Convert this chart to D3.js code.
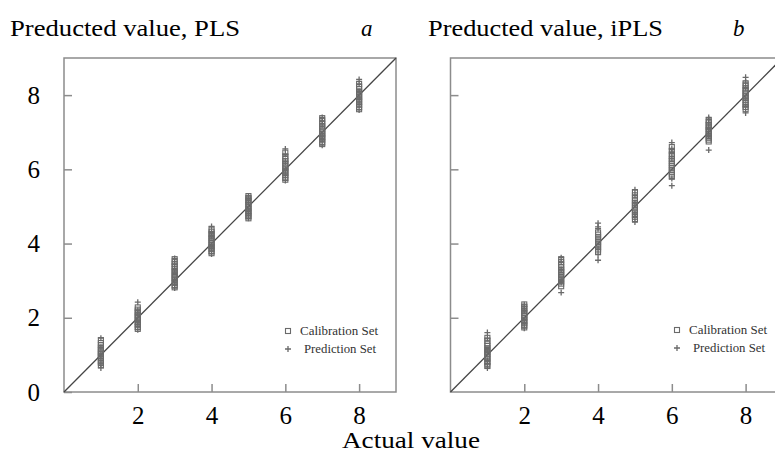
<!DOCTYPE html>
<html>
<head>
<meta charset="utf-8">
<script src="https://cdn.jsdelivr.net/npm/d3@7"></script>
<style>
  body { margin: 0; background: #fff; }
  svg { display: block; font-family: "Liberation Serif", "Times New Roman", serif; }
</style>
</head>
<body>
<svg id="chart" width="775" height="454"></svg>
<script>
// actual class values on the x axis
const actual = [1, 2, 3, 4, 5, 6, 7, 8];
const xTicks = [2, 4, 6, 8];
const yTicks = [0, 2, 4, 6, 8];

// predicted values per class
const plsCalib = [
  [0.72, 0.78, 0.83, 0.88, 0.93, 0.98, 1.02, 1.06, 1.1, 1.15, 1.2, 1.26, 1.32, 1.4],
  [1.7, 1.75, 1.8, 1.85, 1.9, 1.95, 1.99, 2.03, 2.07, 2.12, 2.17, 2.22, 2.28],
  [2.82, 2.88, 2.94, 3.0, 3.05, 3.1, 3.15, 3.2, 3.26, 3.32, 3.38, 3.44, 3.5, 3.58],
  [3.74, 3.8, 3.85, 3.9, 3.95, 4.0, 4.05, 4.1, 4.15, 4.2, 4.26, 4.32, 4.38],
  [4.68, 4.73, 4.78, 4.83, 4.88, 4.93, 4.98, 5.03, 5.08, 5.13, 5.18, 5.23, 5.28],
  [5.72, 5.78, 5.84, 5.9, 5.95, 6.0, 6.05, 6.1, 6.16, 6.22, 6.28, 6.35, 6.45],
  [6.68, 6.74, 6.8, 6.85, 6.9, 6.95, 7.0, 7.05, 7.1, 7.16, 7.22, 7.3, 7.38],
  [7.62, 7.68, 7.74, 7.8, 7.85, 7.9, 7.95, 8.0, 8.05, 8.1, 8.16, 8.22, 8.3]
];
const plsPred = [
  [0.65, 0.75, 0.9, 1.0, 1.2, 1.45],
  [1.68, 1.82, 1.9, 2.1, 2.2, 2.42],
  [2.8, 2.9, 3.0, 3.3, 3.45, 3.6],
  [3.72, 3.88, 3.95, 4.2, 4.3, 4.46],
  [4.68, 4.8, 4.9, 5.1, 5.2, 5.28],
  [5.7, 5.85, 6.0, 6.2, 6.4, 6.55],
  [6.65, 6.8, 6.9, 7.2, 7.3, 7.4],
  [7.6, 7.75, 7.9, 8.1, 8.3, 8.42]
];
const iplsCalib = [
  [0.7, 0.76, 0.82, 0.88, 0.93, 0.98, 1.03, 1.08, 1.13, 1.18, 1.24, 1.3, 1.38, 1.46],
  [1.74, 1.8, 1.85, 1.9, 1.95, 2.0, 2.04, 2.08, 2.13, 2.18, 2.24, 2.3, 2.36],
  [2.85, 2.92, 2.98, 3.04, 3.1, 3.15, 3.2, 3.25, 3.3, 3.36, 3.42, 3.5, 3.58],
  [3.78, 3.84, 3.9, 3.95, 4.0, 4.04, 4.08, 4.13, 4.18, 4.24, 4.3],
  [4.66, 4.72, 4.78, 4.84, 4.9, 4.95, 5.0, 5.05, 5.1, 5.16, 5.22, 5.3, 5.38],
  [5.8, 5.86, 5.92, 5.98, 6.04, 6.1, 6.16, 6.22, 6.28, 6.35, 6.42, 6.5, 6.6],
  [6.75, 6.8, 6.85, 6.9, 6.95, 7.0, 7.05, 7.1, 7.15, 7.2, 7.26, 7.32],
  [7.62, 7.68, 7.74, 7.8, 7.86, 7.92, 7.97, 8.02, 8.07, 8.12, 8.18, 8.25, 8.32]
];
const iplsPred = [
  [0.65, 0.75, 0.85, 1.1, 1.45, 1.6],
  [1.72, 1.85, 1.95, 2.2, 2.3, 2.35],
  [2.68, 2.95, 3.0, 3.3, 3.5, 3.62],
  [3.55, 3.7, 3.85, 4.4, 4.45, 4.55],
  [4.58, 4.7, 4.8, 5.1, 5.3, 5.45],
  [5.56, 5.75, 6.3, 6.45, 6.55, 6.72],
  [6.52, 6.9, 7.1, 7.25, 7.35, 7.4],
  [7.52, 7.7, 7.9, 8.2, 8.35, 8.48]
];

const legendLabels = ["Calibration Set", "Prediction Set"];

const svg = d3.select("#chart");
const plotW = 332, plotTop = 58, plotBottom = 392;
const markColor = "#6a6a6a";
const plusPath = "M-3,0H3M0,-3V3";

function flatten(groups) {
  const out = [];
  groups.forEach((vals, i) => vals.forEach(v => out.push({x: actual[i], y: v})));
  return out;
}

function drawPanel(opt) {
  const x = d3.scaleLinear().domain([0, 9]).range([opt.left, opt.left + plotW]);
  const y = d3.scaleLinear().domain([0, 9]).range([plotBottom, plotTop]);
  const g = svg.append("g");

  // frame
  g.append("rect")
    .attr("x", opt.left).attr("y", plotTop)
    .attr("width", plotW).attr("height", plotBottom - plotTop)
    .attr("fill", "none")
    .attr("stroke", "#8c8c8c")
    .attr("stroke-width", 1.5);

  // inward ticks
  const xAxis = g.append("g")
    .attr("transform", `translate(0,${plotBottom})`)
    .call(d3.axisBottom(x).tickValues(xTicks).tickSize(-8).tickPadding(14));
  const yAxis = g.append("g")
    .attr("transform", `translate(${opt.left},0)`)
    .call(d3.axisLeft(y).tickValues(opt.yLabels ? yTicks : xTicks)
      .tickSize(-8).tickPadding(24)
      .tickFormat(opt.yLabels ? d3.format("d") : () => ""));

  [xAxis, yAxis].forEach(a => {
    a.select(".domain").remove();
    a.selectAll(".tick line").attr("stroke", "#8c8c8c").attr("stroke-width", 1.5);
    a.selectAll(".tick text")
      .attr("fill", "#000")
      .style("font-family", "Liberation Serif, serif")
      .style("font-size", "25px");
  });

  // 1:1 line
  g.append("line")
    .attr("x1", x(0)).attr("y1", y(0))
    .attr("x2", x(9)).attr("y2", y(9))
    .attr("stroke", "#454545")
    .attr("stroke-width", 1.3);

  g.selectAll("rect.cal")
    .data(flatten(opt.calib))
    .join("rect")
    .attr("class", "cal")
    .attr("x", d => x(d.x) - 2.5)
    .attr("y", d => y(d.y) - 2.5)
    .attr("width", 5).attr("height", 5)
    .attr("fill", "none")
    .attr("stroke", markColor)
    .attr("stroke-width", 1.1);

  g.selectAll("path.pred")
    .data(flatten(opt.pred))
    .join("path")
    .attr("class", "pred")
    .attr("d", plusPath)
    .attr("transform", d => `translate(${x(d.x)},${y(d.y)})`)
    .attr("stroke", markColor)
    .attr("stroke-width", 1.3);

  // legend
  const lg = g.append("g").attr("transform", `translate(${opt.legendX},${opt.legendY})`);
  lg.append("rect")
    .attr("x", -2.5).attr("y", -2.5).attr("width", 5).attr("height", 5)
    .attr("fill", "none").attr("stroke", markColor).attr("stroke-width", 1.1);
  lg.append("path")
    .attr("d", plusPath)
    .attr("transform", "translate(0,18)")
    .attr("stroke", markColor).attr("stroke-width", 1.3);
  lg.selectAll("text")
    .data(legendLabels)
    .join("text")
    .attr("x", (d, i) => i === 0 ? 12 : 16)
    .attr("y", (d, i) => i * 18)
    .attr("dy", "0.35em")
    .attr("font-size", 12)
    .attr("fill", "#333")
    .attr("textLength", (d, i) => i === 0 ? 78 : 72)
    .attr("lengthAdjust", "spacingAndGlyphs")
    .text(d => d);

  // title
  svg.append("text")
    .attr("x", opt.titleX).attr("y", 36)
    .attr("font-size", 23)
    .attr("textLength", opt.titleW)
    .attr("lengthAdjust", "spacingAndGlyphs")
    .text(opt.title);
  svg.append("text")
    .attr("x", opt.letterX).attr("y", 36)
    .attr("font-size", 23)
    .attr("font-style", "italic")
    .text(opt.letter);
}

drawPanel({
  left: 64, calib: plsCalib, pred: plsPred, yLabels: true,
  legendX: 288, legendY: 331,
  title: "Preducted value, PLS", titleX: 10, titleW: 230, letter: "a", letterX: 361
});
drawPanel({
  left: 450.5, calib: iplsCalib, pred: iplsPred, yLabels: false,
  legendX: 677, legendY: 330,
  title: "Preducted value, iPLS", titleX: 428, titleW: 235, letter: "b", letterX: 733
});

svg.append("text")
  .attr("x", 342).attr("y", 448)
  .attr("font-size", 23)
  .attr("textLength", 138)
  .attr("lengthAdjust", "spacingAndGlyphs")
  .text("Actual value");
</script>
</body>
</html>
